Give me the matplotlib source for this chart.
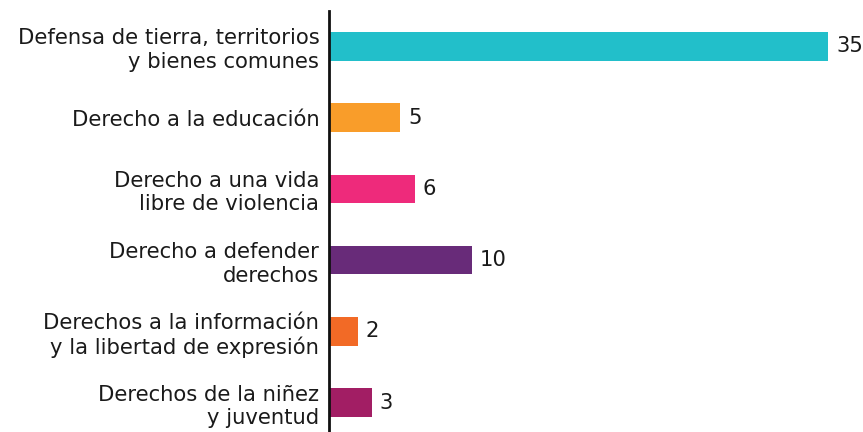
import matplotlib
matplotlib.use("Agg")
import matplotlib.pyplot as plt
import matplotlib.transforms as mtransforms

categories = [
    "Defensa de tierra, territorios\ny bienes comunes",
    "Derecho a la educación",
    "Derecho a una vida\nlibre de violencia",
    "Derecho a defender\nderechos",
    "Derechos a la información\ny la libertad de expresión",
    "Derechos de la niñez\ny juventud",
]
values = [35, 5, 6, 10, 2, 3]
colors = ["#22BFCA", "#F99D2A", "#EE2A7B", "#682B79", "#F26A26", "#A21E64"]

W, H = 863, 432
fig = plt.figure(figsize=(W / 100, H / 100), dpi=100)
ax = fig.add_axes([329 / W, 0, 1 - 329 / W, 1 - 11 / H])

family = ["DejaVu Sans"]
fs = 15.2

y = list(range(len(categories)))
ax.barh(y, values, height=0.4, color=colors)
ax.set_ylim(5.414, -0.495)
ax.set_xlim(0, (W - 329) / 14.27)

ax.set_yticks(y)
ax.set_yticklabels(categories, fontsize=fs, family=family, fontweight="normal",
                   color="#1a1a1a", linespacing=1.22)
ax.tick_params(axis="y", length=0, pad=7)
ax.set_xticks([])
for s in ["top", "right", "bottom"]:
    ax.spines[s].set_visible(False)
ax.spines["left"].set_linewidth(2)
ax.spines["left"].set_color("#111111")

offset = mtransforms.offset_copy(ax.transData, fig=fig, x=8, y=0, units="dots")
for yi, v in zip(y, values):
    ax.text(v, yi, str(v), transform=offset, ha="left", va="center",
            fontsize=fs, family=family, fontweight="normal", color="#1a1a1a")

fig.savefig("out.png", dpi=100)
